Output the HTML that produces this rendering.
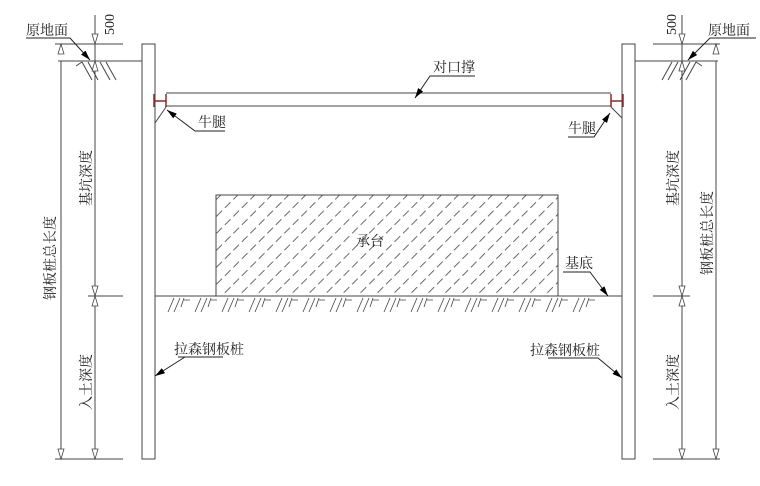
<!DOCTYPE html>
<html><head><meta charset="utf-8"><style>
body{margin:0;background:#fff}
text{font-family:"Liberation Serif","Noto Serif CJK SC",serif;fill:#222}
</style></head><body>
<svg width="760" height="481" viewBox="0 0 760 481" xmlns="http://www.w3.org/2000/svg">
<defs>
<pattern id="h" width="12" height="12" patternUnits="userSpaceOnUse" patternTransform="rotate(-45)">
<line x1="0" y1="6" x2="8" y2="6" stroke="#444" stroke-width="0.8"/>
</pattern>
<marker id="a" markerWidth="10" markerHeight="6" refX="10" refY="3" orient="auto" markerUnits="userSpaceOnUse"><path d="M0,0 L10,3 L0,6z" fill="#000"/></marker>
</defs>
<g stroke="#444" stroke-width="1" fill="none">
<rect x="142" y="44" width="13" height="415"/>
<rect x="622" y="44" width="13" height="415"/>
<line x1="166" y1="93" x2="611" y2="93"/>
<line x1="166" y1="106" x2="611" y2="106"/>
<line x1="58" y1="61" x2="142" y2="61"/>
<line x1="635" y1="61" x2="718" y2="61"/>
<line x1="55" y1="44" x2="123" y2="44"/>
<line x1="653" y1="44" x2="720" y2="44"/>
<line x1="61" y1="61" x2="61" y2="459"/>
<line x1="95" y1="15" x2="95" y2="459"/>
<line x1="682" y1="15" x2="682" y2="459"/>
<line x1="716" y1="61" x2="716" y2="459"/>
<line x1="55" y1="459" x2="123" y2="459"/>
<line x1="653" y1="459" x2="720" y2="459"/>
<line x1="88" y1="296" x2="123" y2="296"/>
<line x1="653" y1="296" x2="690" y2="296"/>
<line x1="155" y1="296" x2="622" y2="296"/>
<rect x="216" y="195" width="342" height="101" fill="url(#h)"/>
<path d="M82,62 l10,18 M88,62 l10,18 M100,62 l10,18 M106,62 l10,18 M82,62 l-6,4"/>
<path d="M672,62 l-10,18 M678,62 l-10,18 M690,62 l-10,18 M696,62 l-10,18 M696,62 l6,4"/>
</g>
<g stroke="#444" stroke-width="0.8" fill="none">
<path id="gh" d="M174,298 l-6,14 M180,298 l-6,14 M184,298 l-3,9 M184,300 h6"/>
<use href="#gh" x="27"/><use href="#gh" x="54"/><use href="#gh" x="81"/><use href="#gh" x="108"/><use href="#gh" x="135"/><use href="#gh" x="162"/><use href="#gh" x="189"/><use href="#gh" x="216"/><use href="#gh" x="243"/><use href="#gh" x="270"/><use href="#gh" x="297"/><use href="#gh" x="324"/><use href="#gh" x="351"/><use href="#gh" x="378"/><use href="#gh" x="405"/>
</g>
<g stroke="#8b2a2a" stroke-width="1.5" fill="none">
<path d="M154,94 v13 M154,101 h12 M166,94 v13"/>
<path d="M611,94 v13 M611,101 h12 M623,94 v13"/>
</g>
<g stroke="#444" fill="none">
<line x1="166" y1="107" x2="155" y2="123"/>
<line x1="611" y1="107" x2="622" y2="118"/>
</g>
<g stroke="#444" fill="#fff" stroke-width="0.8">
<path d="M95,44 l-3,-10 h6z"/><path d="M95,61 l-3,10 h6z"/>
<path d="M61,44 l-3,10 h6z"/>
<path d="M95,296 l-3,-10 h6z"/><path d="M95,296 l-3,10 h6z"/>
<path d="M95,459 l-3,-10 h6z"/><path d="M61,459 l-3,-10 h6z"/>
<path d="M682,44 l-3,-10 h6z"/><path d="M682,61 l-3,10 h6z"/>
<path d="M716,44 l-3,10 h6z"/>
<path d="M682,296 l-3,-10 h6z"/><path d="M682,296 l-3,10 h6z"/>
<path d="M682,459 l-3,-10 h6z"/><path d="M716,459 l-3,-10 h6z"/>
</g>
<g stroke="#222" fill="none" stroke-width="1">
<path d="M26,38 h44 L90,60" marker-end="url(#a)"/>
<path d="M756,38 h-46 L688,60" marker-end="url(#a)"/>
<path d="M475,76 h-45 L415,98" marker-end="url(#a)"/>
<path d="M225,131 h-30 L167,110" marker-end="url(#a)"/>
<path d="M568,137 h26 L610,113" marker-end="url(#a)"/>
<path d="M563,272 h27 L608,296" marker-end="url(#a)"/>
<path d="M178,357 h45 M185,357 L155,376" marker-end="url(#a)"/>
<path d="M548,358 h50 L622,378" marker-end="url(#a)"/>
</g>
<g font-size="14">
<text x="26" y="35">原地面</text>
<text x="708" y="35">原地面</text>
<text x="433" y="72">对口撑</text>
<text x="198" y="127">牛腿</text>
<text x="568" y="133">牛腿</text>
<text x="565" y="268">基底</text>
<text x="356" y="246">承台</text>
<text x="174" y="354">拉森钢板桩</text>
<text x="530" y="355">拉森钢板桩</text>
<text transform="translate(114,35) rotate(-90)" font-size="14">500</text>
<text transform="translate(676,35) rotate(-90)" font-size="14">500</text>
<text transform="translate(91,206) rotate(-90)">基坑深度</text>
<text transform="translate(678,206) rotate(-90)">基坑深度</text>
<text transform="translate(91,410) rotate(-90)">入土深度</text>
<text transform="translate(678,410) rotate(-90)">入土深度</text>
<text transform="translate(55,300) rotate(-90)">钢板桩总长度</text>
<text transform="translate(712,275) rotate(-90)">钢板桩总长度</text>
</g>
</svg>
</body></html>
